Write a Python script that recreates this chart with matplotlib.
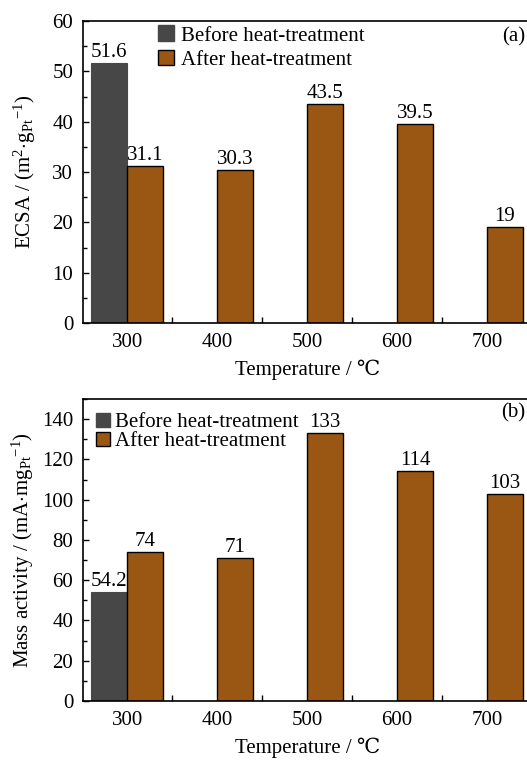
import matplotlib
matplotlib.use("Agg")
import matplotlib.pyplot as plt
import numpy as np
from matplotlib.patches import Patch
from matplotlib.ticker import MultipleLocator, FixedLocator
from matplotlib.transforms import blended_transform_factory

plt.rcParams['font.family'] = ['Liberation Serif', 'DejaVu Serif', 'Noto Sans CJK SC']
plt.rcParams['mathtext.fontset'] = 'custom'
plt.rcParams['mathtext.rm'] = 'Liberation Serif'
plt.rcParams['mathtext.it'] = 'Liberation Serif:italic'
FS = 15
plt.rcParams['font.size'] = FS

categories = ['300', '400', '500', '600', '700']
ecsa_before = [51.6]
ecsa_after = [31.1, 30.3, 43.5, 39.5, 19]
ecsa_after_labels = ['31.1', '30.3', '43.5', '39.5', '19']
ecsa_before_labels = ['51.6']
ma_before = [54.2]
ma_after = [74, 71, 133, 114, 103]
ma_after_labels = ['74', '71', '133', '114', '103']
ma_before_labels = ['54.2']

gray = '#474747'
brown = '#9a5713'

W, H = 527, 764
fig = plt.figure(figsize=(W/100, H/100), dpi=100)

def px_axes(left, top, right, bottom):
    return fig.add_axes([left/W, 1-bottom/H, (right-left)/W, (bottom-top)/H])

ax1 = px_axes(83, 21, 532, 323)
ax2 = px_axes(83, 399, 532, 701)

bw = 0.4
x = np.arange(len(categories))
em = FS * 100 / 72.0

def draw(ax, before, after, blabels, alabels, ylim, major, minor, ylabel, ylab_x,
         tag, leg_anchor, hl, htp, ls, off):
    ax.bar(x[:1] - bw/2, before, width=bw, color=gray, edgecolor=gray, linewidth=0.8)
    ax.bar(x + bw/2, after, width=bw, color=brown, edgecolor='black', linewidth=1.0)
    for xi, v, t in zip(x[:1] - bw/2, before, blabels):
        ax.text(xi, v + off, t, ha='center', va='bottom', fontsize=FS)
    for xi, v, t in zip(x + bw/2, after, alabels):
        ax.text(xi, v + off, t, ha='center', va='bottom', fontsize=FS)
    ax.set_xlim(-0.49, 4.5)
    ax.set_ylim(*ylim)
    ax.set_xticks(x)
    ax.set_xticklabels(categories)
    ax.xaxis.set_minor_locator(FixedLocator(x[:-1] + 0.5))
    ax.yaxis.set_major_locator(MultipleLocator(major))
    ax.yaxis.set_minor_locator(MultipleLocator(minor))
    ax.tick_params(axis='x', which='major', length=0, pad=7, labelsize=FS)
    ax.tick_params(axis='x', which='minor', direction='in', length=4, width=1)
    ax.tick_params(axis='y', which='major', direction='in', length=4, width=1, labelsize=FS, pad=7)
    ax.tick_params(axis='y', which='minor', direction='in', length=3, width=1)
    for s in ax.spines.values():
        s.set_linewidth(1.2)
    ax.set_xlabel('Temperature / ℃', fontsize=FS, labelpad=6)
    ax.set_ylabel(ylabel, fontsize=FS)
    tr = blended_transform_factory(fig.transFigure, ax.transAxes)
    ax.yaxis.set_label_coords(ylab_x / W, 0.5, transform=tr)
    ax.yaxis.label.set_va('center')
    handles = [Patch(facecolor=gray, edgecolor=gray, label='Before heat-treatment'),
               Patch(facecolor=brown, edgecolor='black', label='After heat-treatment')]
    ax.legend(handles=handles, loc='upper left', bbox_to_anchor=leg_anchor, frameon=False,
              fontsize=FS, handlelength=hl, handleheight=hl, handletextpad=htp,
              labelspacing=ls, borderaxespad=0, borderpad=0)
    ax.text(525/W, tag[1], tag[0], transform=fig.transFigure, ha='right', va='center', fontsize=FS)

draw(ax1, ecsa_before, ecsa_after, ecsa_before_labels, ecsa_after_labels, (0, 60), 10, 5,
     r'ECSA / (m$^{2}$$\cdot$g$_{\mathrm{Pt}}$$^{-1}$)', 25, ('(a)', 1-37/H),
     ((158-83)/449, 1 - 4.5/302), 16/em, 7/em, 0.2, 0.3)
draw(ax2, ma_before, ma_after, ma_before_labels, ma_after_labels, (0, 150), 20, 10,
     r'Mass activity / (mA$\cdot$mg$_{\mathrm{Pt}}$$^{-1}$)', 23, ('(b)', 1-413/H),
     ((96-83)/449, 1 - 13.5/302), 14/em, 5/em, 0.0, 0.5)

fig.savefig('out.png', dpi=100)
